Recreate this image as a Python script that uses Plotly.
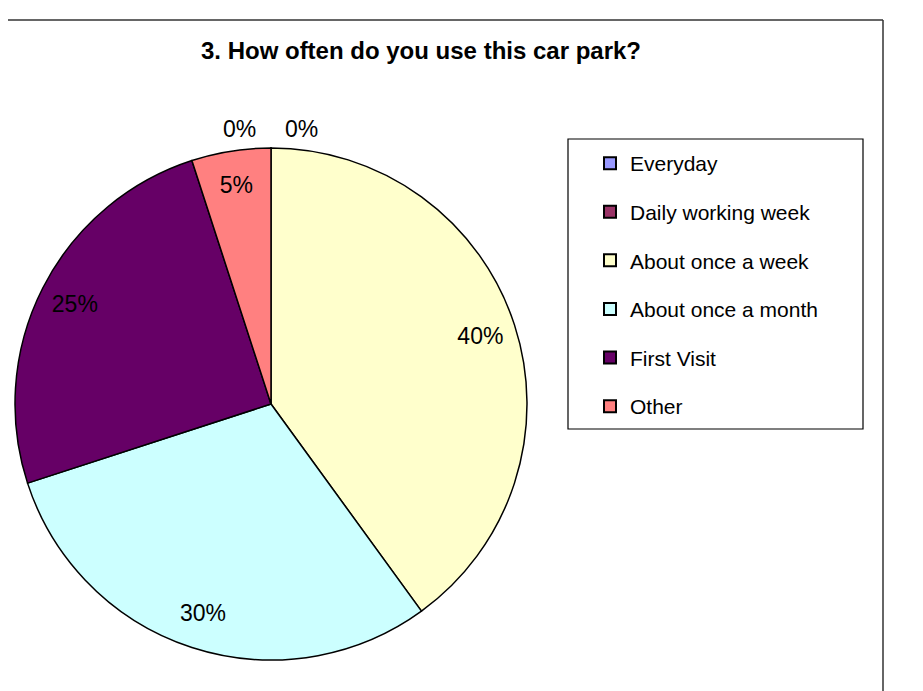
import plotly.graph_objects as go

labels = ["Everyday", "Daily working week", "About once a week",
          "About once a month", "First Visit", "Other"]
values = [0, 0, 40, 30, 25, 5]
colors = ["#9999FF", "#993366", "#FFFFCC", "#CCFFFF", "#660066", "#FF8080"]
title_text = "3. How often do you use this car park?"

W, H = 923, 691
OX, OY = 8, 8  # page body margin
FONT = "Liberation Sans, Arial, sans-serif"

def px_x(x):
    return (x - OX) / W

def px_y(y):
    return 1 - (y - OY) / H

total = sum(values)
pct_text = [f"{v / total:.0%}" for v in values]
pie_domain = dict(x=[px_x(15), px_x(527)], y=[px_y(660), px_y(148)])

fig = go.Figure()

# slices
fig.add_trace(go.Pie(
    labels=labels, values=values, sort=False, direction="clockwise",
    rotation=0,
    marker=dict(colors=colors, line=dict(color="black", width=1.5)),
    textinfo="none", showlegend=False, hoverinfo="label+percent",
    domain=pie_domain,
))

# percentage labels placed in the outer ring (like the original)
fig.add_trace(go.Pie(
    labels=labels, values=values, sort=False, direction="clockwise",
    rotation=0, hole=0.72,
    marker=dict(colors=["rgba(0,0,0,0)"] * len(values),
                line=dict(width=0)),
    text=pct_text, textinfo="text",
    textposition=["none" if v == 0 else "inside" for v in values],
    insidetextorientation="horizontal",
    textfont=dict(family=FONT, size=23, color="black"),
    showlegend=False, hoverinfo="skip",
    domain=pie_domain,
))

# zero-value labels sit above the top of the pie, side by side
zero_idx = [i for i, v in enumerate(values) if v == 0]
zero_x = [240, 301]
annotations = []
for k, i in enumerate(zero_idx):
    annotations.append(dict(
        text=pct_text[i], x=px_x(zero_x[k]), y=px_y(129), xref="paper",
        yref="paper", showarrow=False, xanchor="center", yanchor="middle",
        font=dict(family=FONT, size=23, color="black")))

for lab, col in zip(labels, colors):
    fig.add_trace(go.Scatter(
        x=[None], y=[None], mode="markers", name=lab, legendgroup=lab,
        marker=dict(symbol="square", size=11, color=col,
                    line=dict(color="black", width=1.2)),
    ))

fig.update_layout(
    width=W, height=H,
    margin=dict(l=0, r=0, t=0, b=0),
    paper_bgcolor="white", plot_bgcolor="white",
    xaxis=dict(visible=False), yaxis=dict(visible=False),
    title=dict(text="<b>" + title_text + "</b>", x=px_x(421), xanchor="center",
               y=px_y(51), yanchor="middle",
               font=dict(family=FONT, size=24, color="black")),
    legend=dict(x=px_x(590), y=px_y(143), xanchor="left", yanchor="top",
                font=dict(family=FONT, size=21, color="black"),
                tracegroupgap=18.3, itemsizing="constant",
                bgcolor="rgba(0,0,0,0)", borderwidth=0),
    annotations=annotations,
    shapes=[
        dict(type="rect", xref="paper", yref="paper",
             x0=px_x(568), x1=px_x(863), y0=px_y(429), y1=px_y(139),
             line=dict(color="black", width=1.2), fillcolor="rgba(0,0,0,0)"),
        dict(type="line", xref="paper", yref="paper",
             x0=px_x(0), x1=px_x(883), y0=px_y(20), y1=px_y(20),
             line=dict(color="#333333", width=1.5)),
        dict(type="line", xref="paper", yref="paper",
             x0=px_x(883), x1=px_x(883), y0=px_y(20), y1=px_y(700),
             line=dict(color="#333333", width=1.5)),
    ],
)

fig.write_html("out.html")
